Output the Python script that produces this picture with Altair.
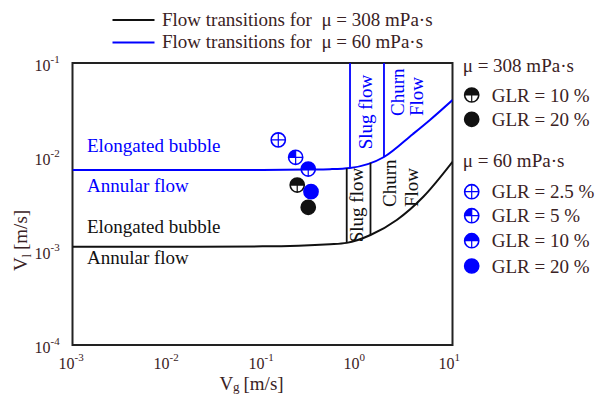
import altair as alt
import pandas as pd

W, H = 380, 282
FONT = "Liberation Serif"
FS = 19
BLUE = "#0000ff"
BLACK = "#111111"
TXT = "#3a2224"

# ---------------- data ----------------
x_ticks = [0.001, 0.01, 0.1, 1, 10]
x_exps = ["-3", "-2", "-1", "0", "1"]
y_ticks = [0.0001, 0.001, 0.01, 0.1]
y_exps = ["-4", "-3", "-2", "-1"]

# flow transition curves
blue_vg = [0.001, 0.01, 0.1, 0.3, 0.514, 0.834, 1.9, 3.84, 5.79, 10]
blue_vl = [0.00728, 0.00728, 0.00729, 0.00735, 0.00742, 0.00764, 0.0100, 0.0176, 0.0248, 0.0404]
black_vg = [0.001, 0.01, 0.1, 0.514, 0.77, 1.37, 2.59, 4.93, 10]
black_vl = [0.00111, 0.00111, 0.00112, 0.00118, 0.00122, 0.00148, 0.00214, 0.00378, 0.0089]

# vertical transition lines (slug / churn)
rule_vg = [0.834, 1.9, 0.77, 1.37]
rule_lo = [0.00764, 0.0100, 0.00122, 0.00148]
rule_hi = [0.1, 0.1, 0.0076, 0.0087]
rule_series = ["60", "60", "308", "308"]

# measured points
pt_vg = [0.232, 0.303, 0.1466, 0.2233, 0.303, 0.324]
pt_vl = [0.00503, 0.00292, 0.0152, 0.00993, 0.00745, 0.00428]
pt_style = ["half", "full", "cross", "quarter", "half", "full"]
pt_series = ["308", "308", "60", "60", "60", "60"]

# region labels (horizontal)
lab_text = ["Elongated bubble", "Annular flow", "Elongated bubble", "Annular flow"]
lab_vg = [0.00142, 0.00142, 0.00142, 0.00142]
lab_vl = [0.0113, 0.00425, 0.00155, 0.000728]
lab_series = ["60", "60", "308", "308"]

# region labels (rotated)
rot_text = ["Slug flow", "Churn", "Flow", "Slug flow", "Churn", "Flow"]
rot_vg = [1.228, 2.70, 4.23, 0.989, 2.20, 3.72]
rot_vl = [0.0301, 0.0273, 0.0273, 0.00308, 0.00294, 0.00294]
rot_align = ["center", "left", "left", "center", "left", "left"]
rot_series = ["60", "60", "60", "308", "308", "308"]

# legends (pixel layout)
top_leg_text = ["Flow transitions for \u00a0\u03bc = 308 mPa\u00b7s", "Flow transitions for \u00a0\u03bc = 60 mPa\u00b7s"]
top_leg_series = ["308", "60"]
top_leg_y = [-43, -20.5]

side_head_text = ["\u03bc = 308 mPa\u00b7s", "\u03bc = 60 mPa\u00b7s"]
side_head_y = [8.7, 103.7]
side_leg_text = ["GLR = 10 %", "GLR = 20 %", "GLR = 2.5 %", "GLR = 5 %", "GLR = 10 %", "GLR = 20 %"]
side_leg_style = ["half", "full", "cross", "quarter", "half", "full"]
side_leg_series = ["308", "308", "60", "60", "60", "60"]
side_leg_y = [32, 56.3, 128.7, 152.7, 177.7, 203]

# ---------------- scales ----------------
xs = alt.Scale(type="log", domain=[1e-3, 10])
ys = alt.Scale(type="log", domain=[1e-4, 1e-1])
cs = alt.Scale(domain=["308", "60"], range=[BLACK, BLUE])
ts = alt.Scale(domain=["308", "60"], range=[TXT, BLUE])
fill_shapes = alt.Scale(
    domain=["quarter", "half", "full"],
    range=["M0,0L-1,0A1,1 0 0,1 0,-1Z", "M-1,0A1,1 0 0,1 1,0Z", "circle"],
)
MSIZE = 200
CROSS = "M-1,0L1,0M0,-1L0,1"

curves = pd.concat([
    pd.DataFrame({"vg": blue_vg, "vl": blue_vl, "series": "60"}),
    pd.DataFrame({"vg": black_vg, "vl": black_vl, "series": "308"}),
])
rules = pd.DataFrame({"vg": rule_vg, "lo": rule_lo, "hi": rule_hi, "series": rule_series})
pts = pd.DataFrame({"vg": pt_vg, "vl": pt_vl, "style": pt_style, "series": pt_series})
labs = pd.DataFrame({"vg": lab_vg, "vl": lab_vl, "text": lab_text, "series": lab_series})
rots = pd.DataFrame({"vg": rot_vg, "vl": rot_vl, "text": rot_text, "align": rot_align, "series": rot_series})
xt = pd.DataFrame({"v": x_ticks, "e": x_exps})
yt = pd.DataFrame({"v": y_ticks, "e": y_exps})

xaxis = alt.Axis(values=x_ticks, grid=True, labels=False, title=None, domain=False,
                 ticks=True, tickColor="#c4c4c4", tickDash=[4, 3], tickSize=5, tickWidth=1.2,
                 gridColor="#c4c4c4", gridDash=[5, 4], gridWidth=1.2)
yaxis = alt.Axis(values=y_ticks, grid=True, labels=False, title=None, domain=False,
                 ticks=True, tickColor="#c4c4c4", tickDash=[4, 3], tickSize=5, tickWidth=1.2,
                 gridColor="#c4c4c4", gridDash=[5, 4], gridWidth=1.2)

X = lambda f: alt.X(f"{f}:Q", scale=xs, axis=None)
Y = lambda f: alt.Y(f"{f}:Q", scale=ys, axis=None)

curve_layer = alt.Chart(curves).mark_line(interpolate="monotone", strokeWidth=2, clip=True).encode(
    x=alt.X("vg:Q", scale=xs, axis=xaxis),
    y=alt.Y("vl:Q", scale=ys, axis=yaxis),
    color=alt.Color("series:N", scale=cs, legend=None),
    detail="series:N",
)
rule_layer = alt.Chart(rules).mark_rule(strokeWidth=1.8).encode(
    x=X("vg"), y=Y("lo"), y2="hi:Q",
    color=alt.Color("series:N", scale=cs, legend=None),
)
lab_layer = alt.Chart(labs).mark_text(font=FONT, fontSize=FS, align="left", baseline="alphabetic").encode(
    x=X("vg"), y=Y("vl"), text="text:N",
    color=alt.Color("series:N", scale=ts, legend=None),
)
rot_layers = []
for al in ["center", "left"]:
    rot_layers.append(
        alt.Chart(rots[rots["align"] == al]).mark_text(font=FONT, fontSize=FS, align=al, baseline="middle", angle=270).encode(
            x=X("vg"), y=Y("vl"), text="text:N",
            color=alt.Color("series:N", scale=ts, legend=None),
        )
    )

fill_layer = alt.Chart(pts[pts["style"] != "cross"]).mark_point(filled=True, size=MSIZE, opacity=1).encode(
    x=X("vg"), y=Y("vl"),
    shape=alt.Shape("style:N", scale=fill_shapes, legend=None),
    color=alt.Color("series:N", scale=cs, legend=None),
)
cross_layer = alt.Chart(pts[pts["style"] != "full"]).mark_point(shape=CROSS, filled=False, size=MSIZE, strokeWidth=1.2, opacity=1).encode(
    x=X("vg"), y=Y("vl"),
    color=alt.Color("series:N", scale=cs, legend=None),
)
ring_layer = alt.Chart(pts).mark_point(shape="circle", filled=False, size=MSIZE, strokeWidth=1.6, opacity=1).encode(
    x=X("vg"), y=Y("vl"),
    color=alt.Color("series:N", scale=cs, legend=None),
)

# tick labels
xl10 = alt.Chart(xt).mark_text(font=FONT, fontSize=16, align="right", baseline="alphabetic", dx=2, color=TXT).encode(
    x=X("v"), y=alt.value(H + 24), text=alt.value("10"))
xlexp = alt.Chart(xt).mark_text(font=FONT, fontSize=11, align="left", baseline="alphabetic", dx=2, color=TXT).encode(
    x=X("v"), y=alt.value(H + 16), text="e:N")
yl10 = alt.Chart(yt).mark_text(font=FONT, fontSize=16, align="right", baseline="alphabetic", dy=7.5, color=TXT).encode(
    y=Y("v"), x=alt.value(-22), text=alt.value("10"))
ylexp = alt.Chart(yt).mark_text(font=FONT, fontSize=11, align="left", baseline="alphabetic", dy=0, color=TXT).encode(
    y=Y("v"), x=alt.value(-22), text="e:N")

# axis titles
def txt(s, x, y, size=FS, angle=0, align="left", color=TXT):
    return alt.Chart(pd.DataFrame({"t": [s]})).mark_text(
        font=FONT, fontSize=size, align=align, baseline="alphabetic", angle=angle, color=color
    ).encode(x=alt.value(x), y=alt.value(y), text="t:N")

xtitle = [txt("V", 147, 326.5), txt("g", 160.5, 328, size=13), txt("[m/s]", 171, 326.5)]
ytitle = [txt("V", -45.5, 208, angle=270), txt("l", -42, 194.5, size=13, angle=270),
          txt("[m/s]", -45.5, 187, angle=270)]

# top legend
top_leg = []
for t, s, yy in zip(top_leg_text, top_leg_series, top_leg_y):
    col = BLACK if s == "308" else BLUE
    top_leg.append(alt.Chart(pd.DataFrame({"a": [0]})).mark_rule(strokeWidth=2, color=col).encode(
        x=alt.value(40), x2=alt.value(82), y=alt.value(yy)))
    top_leg.append(txt(t, 89.5, yy + 5.5))

# side legend
side = []
for t, yy in zip(side_head_text, side_head_y):
    side.append(txt(t, 390.2, yy))
leg = pd.DataFrame({"text": side_leg_text, "style": side_leg_style, "series": side_leg_series, "ly": side_leg_y})
LX = 399.2
side.append(alt.Chart(leg[leg["style"] != "cross"]).mark_point(filled=True, size=MSIZE, opacity=1).encode(
    x=alt.value(LX), y=alt.Y("ly:Q", scale=None, axis=None),
    shape=alt.Shape("style:N", scale=fill_shapes, legend=None),
    color=alt.Color("series:N", scale=cs, legend=None)))
side.append(alt.Chart(leg[leg["style"] != "full"]).mark_point(shape=CROSS, filled=False, size=MSIZE, strokeWidth=1.2, opacity=1).encode(
    x=alt.value(LX), y=alt.Y("ly:Q", scale=None, axis=None),
    color=alt.Color("series:N", scale=cs, legend=None)))
side.append(alt.Chart(leg).mark_point(shape="circle", filled=False, size=MSIZE, strokeWidth=1.6, opacity=1).encode(
    x=alt.value(LX), y=alt.Y("ly:Q", scale=None, axis=None),
    color=alt.Color("series:N", scale=cs, legend=None)))
side.append(alt.Chart(leg).mark_text(font=FONT, fontSize=FS, align="left", baseline="alphabetic", dy=6.5, color=TXT).encode(
    x=alt.value(419.2), y=alt.Y("ly:Q", scale=None, axis=None), text="text:N"))

chart = alt.layer(
    curve_layer, rule_layer, lab_layer, *rot_layers,
    fill_layer, cross_layer, ring_layer,
    xl10, xlexp, yl10, ylexp, *xtitle, *ytitle, *top_leg, *side,
).properties(
    width=W, height=H,
    autosize=alt.AutoSizeParams(type="none"),
    padding={"left": 72.5, "top": 63, "right": 598 - 72.5 - W, "bottom": 394 - 63 - H},
    background="white",
).configure_view(stroke="#222222", strokeWidth=2)

chart.save("out.html", embed_options={"renderer": "svg", "actions": False})
